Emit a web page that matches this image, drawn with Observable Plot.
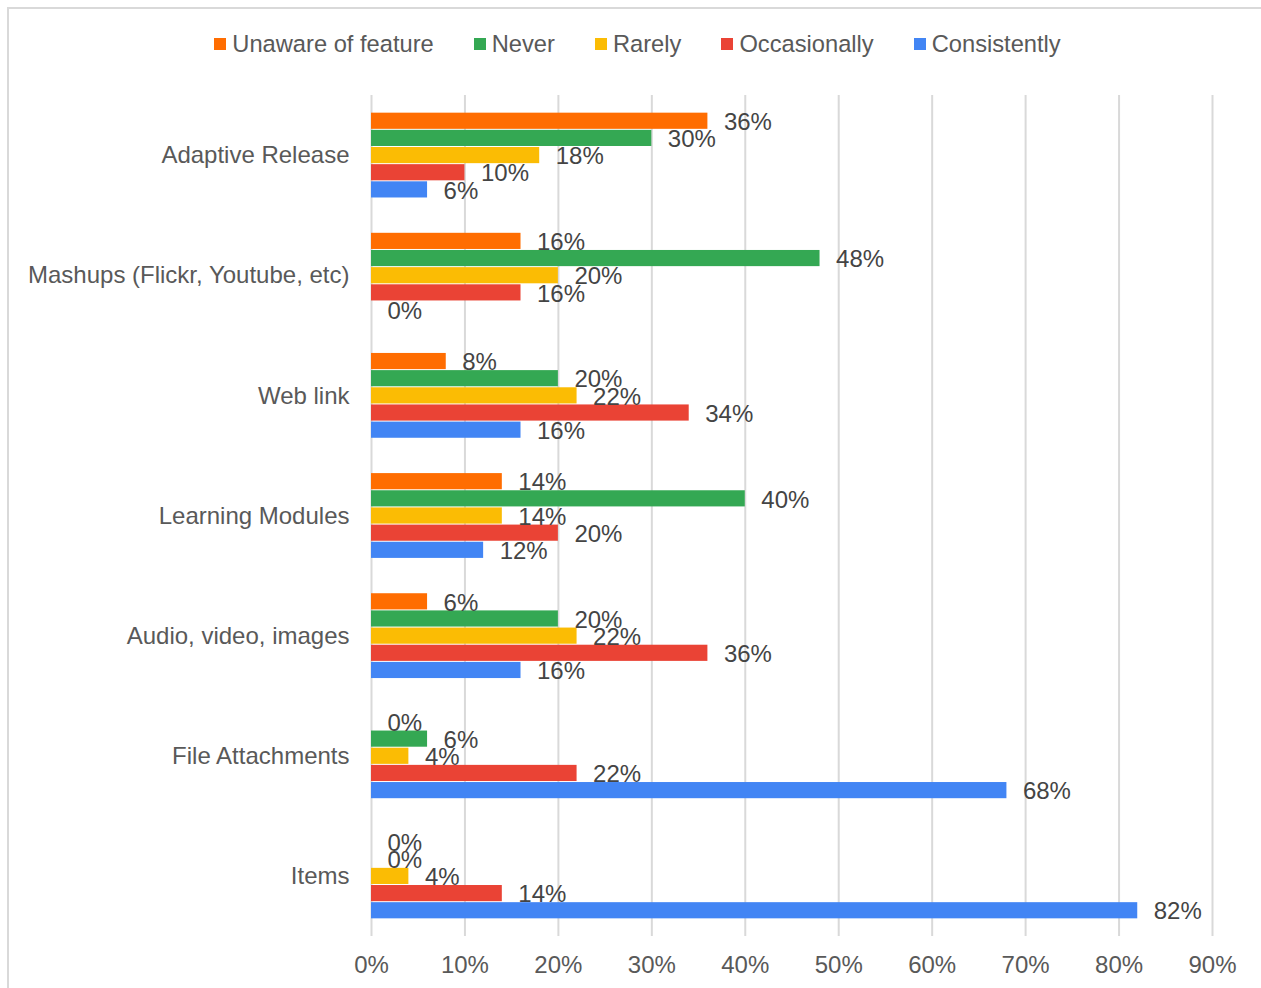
<!DOCTYPE html>
<html>
<head>
<meta charset="utf-8">
<script src="https://cdn.jsdelivr.net/npm/d3@7"></script>
<script src="https://cdn.jsdelivr.net/npm/@observablehq/plot@0.6"></script>
<style>
  html, body { margin: 0; padding: 0; background: #fff; }
  body { width: 1261px; height: 988px; position: relative; overflow: hidden; font-family: "Liberation Sans", Arial, sans-serif; }
  #frame { position: absolute; left: 7px; top: 7px; width: 1300px; height: 1000px; border-left: 2px solid #d9d9d9; border-top: 2px solid #d9d9d9; pointer-events: none; }
  #legend { height: 88px; display: flex; justify-content: center; align-items: center; gap: 40px; padding-left: 14px; box-sizing: border-box; width: 1261px; }
  .item { display: flex; align-items: center; gap: 6px; font-size: 23.7px; color: #595959; }
  .sw { width: 12px; height: 12px; display: inline-block; }
  #chart svg { display: block; }
</style>
</head>
<body>
<div id="frame"></div>
<div id="legend"></div>
<div id="chart"></div>
<script>
const categories = ["Adaptive Release", "Mashups (Flickr, Youtube, etc)", "Web link", "Learning Modules", "Audio, video, images", "File Attachments", "Items"];
const series = ["Unaware of feature", "Never", "Rarely", "Occasionally", "Consistently"];
const colors = ["#FF6D01", "#34A853", "#FBBC04", "#EA4335", "#4285F4"];
const unaware      = [36, 16, 8, 14, 6, 0, 0];
const never        = [30, 48, 20, 40, 20, 6, 0];
const rarely       = [18, 20, 22, 14, 22, 4, 4];
const occasionally = [10, 16, 34, 20, 36, 22, 14];
const consistently = [6, 0, 16, 12, 16, 68, 82];
const xTicks = [0, 10, 20, 30, 40, 50, 60, 70, 80, 90];

const seriesValues = [unaware, never, rarely, occasionally, consistently];
const rows = [];
categories.forEach((c, i) => series.forEach((s, j) => rows.push({cat: c, series: s, value: seriesValues[j][i]})));
const key = d => d.cat + "|" + d.series;

// band domain with spacer slots between groups
const yDomain = ["sp-top"];
categories.forEach((c, i) => {
  series.forEach(s => yDomain.push(c + "|" + s));
  if (i < categories.length - 1) { yDomain.push("sp" + i + "a", "sp" + i + "b"); }
});
yDomain.push("sp-bottom");

// legend
const legend = document.getElementById("legend");
series.forEach((s, j) => {
  const it = document.createElement("div");
  it.className = "item";
  it.innerHTML = `<span class="sw" style="background:${colors[j]}"></span><span>${s}</span>`;
  legend.appendChild(it);
});

const chart = Plot.plot({
  width: 1261,
  height: 900,
  marginTop: 7,
  marginBottom: 52,
  marginLeft: 371,
  marginRight: 49,
  style: { fontSize: "24px", fontFamily: "Liberation Sans, Arial, sans-serif", color: "#595959", background: "transparent" },
  x: { domain: [0, 90], ticks: xTicks, tickFormat: d => d + "%", tickSize: 0, tickPadding: 19, label: null },
  y: { type: "band", domain: yDomain, padding: 0, round: false, axis: null },
  color: { domain: series, range: colors },
  marks: [
    Plot.ruleX(xTicks, { stroke: "#d9d9d9", strokeWidth: 2 }),
    Plot.barX(rows, { x: "value", y: key, fill: "series", insetTop: 0.5, insetBottom: 0.5 }),
    Plot.text(rows, { x: "value", y: key, text: d => d.value + "%", textAnchor: "start", dx: 16, dy: 1, fill: "#444444", fontSize: 24 }),
    Plot.text(categories, { x: 0, y: c => c + "|Rarely", text: c => c, textAnchor: "end", dx: -22, fill: "#595959", fontSize: 24 })
  ]
});
document.getElementById("chart").appendChild(chart);
</script>
</body>
</html>
